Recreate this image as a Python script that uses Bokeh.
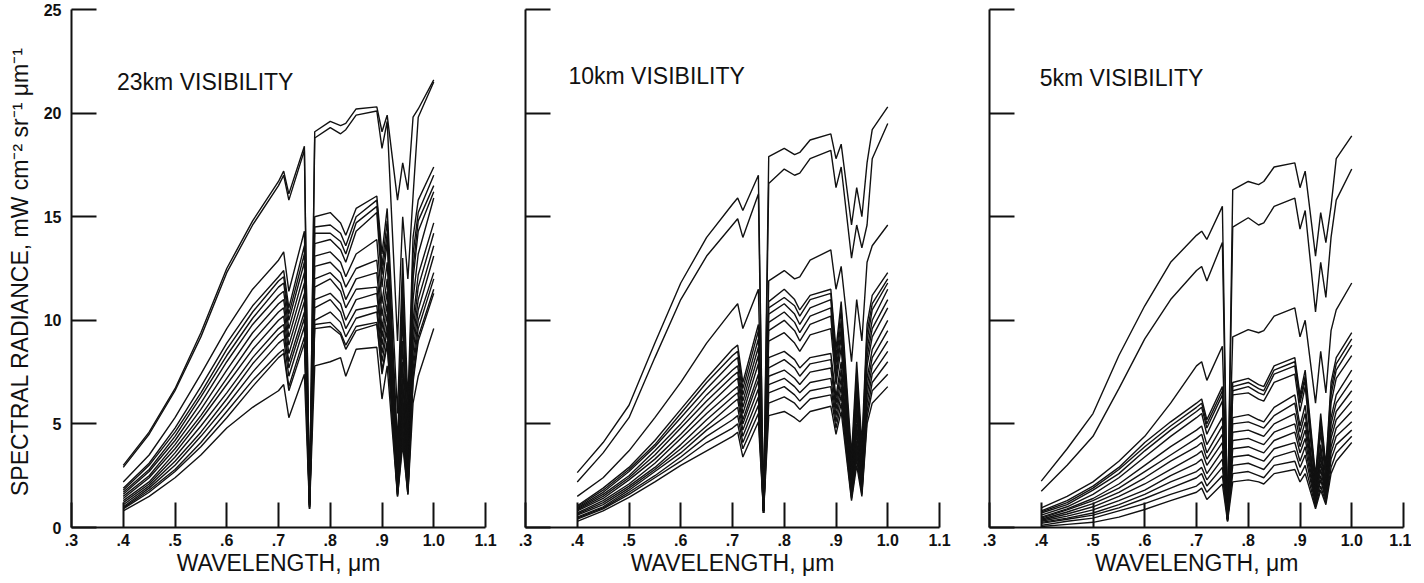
from bokeh.plotting import figure
from bokeh.layouts import row
from bokeh.models import Range1d, FixedTicker, Label, ColumnDataSource
from bokeh.embed import file_html
from bokeh.resources import INLINE

# ---------------- data ----------------
WAVELENGTH = [0.40, 0.45, 0.50, 0.55, 0.60, 0.65, 0.70, 0.71, 0.72, 0.75, 0.76, 0.77, 0.80,
              0.82, 0.83, 0.85, 0.89, 0.90, 0.91, 0.93, 0.94, 0.95, 0.96, 0.97, 1.00]

RAD_23KM = [
    [3.0, 4.6, 6.7, 9.4, 12.5, 14.8, 16.7, 17.2, 16.1, 18.4, 1.2, 19.1, 19.6, 19.4, 19.5, 20.2, 20.3, 19.1, 19.9, 15.8, 17.6, 16.3, 19.8, 20.2, 21.6],
    [2.9, 4.5, 6.6, 9.2, 12.3, 14.6, 16.5, 17.0, 15.8, 18.2, 1.1, 18.8, 19.3, 19.0, 19.2, 19.9, 20.1, 18.3, 19.6, 9.0, 15.0, 12.0, 16.0, 19.8, 21.5],
    [2.2, 3.5, 5.3, 7.4, 9.6, 11.5, 12.9, 13.3, 11.4, 14.3, 1.5, 15.0, 15.2, 14.7, 14.1, 15.4, 16.0, 13.2, 15.4, 5.5, 13.0, 6.0, 14.0, 15.8, 17.4],
    [1.9, 3.1, 4.8, 6.8, 8.9, 10.7, 12.1, 12.4, 10.6, 13.6, 1.4, 14.5, 14.6, 14.2, 13.6, 15.0, 15.8, 12.6, 14.8, 4.0, 12.0, 5.0, 13.2, 15.2, 17.0],
    [1.8, 3.0, 4.6, 6.5, 8.6, 10.4, 11.9, 12.1, 10.3, 13.2, 1.3, 14.2, 14.2, 13.8, 13.2, 14.7, 15.5, 12.2, 14.2, 3.5, 11.0, 4.0, 12.5, 14.8, 16.5],
    [1.7, 2.8, 4.4, 6.3, 8.3, 10.1, 11.6, 11.8, 10.0, 12.8, 1.3, 13.7, 13.9, 13.4, 12.8, 14.3, 15.2, 11.6, 13.8, 3.0, 10.2, 3.5, 12.0, 14.3, 16.2],
    [1.6, 2.7, 4.2, 6.0, 8.0, 9.8, 11.2, 11.4, 9.6, 12.3, 1.2, 13.1, 13.3, 12.8, 12.1, 13.2, 13.9, 10.8, 12.8, 2.6, 9.0, 3.0, 11.0, 13.2, 15.9],
    [1.5, 2.5, 4.0, 5.7, 7.6, 9.4, 10.8, 11.0, 9.2, 11.8, 1.2, 12.6, 12.8, 12.3, 11.6, 12.5, 12.9, 10.2, 12.0, 2.3, 8.0, 2.6, 10.0, 12.2, 14.7],
    [1.4, 2.4, 3.8, 5.4, 7.2, 9.0, 10.4, 10.6, 8.8, 11.3, 1.1, 12.0, 12.3, 11.8, 11.0, 12.0, 12.3, 9.6, 11.4, 2.0, 7.2, 2.3, 9.5, 11.6, 14.2],
    [1.3, 2.2, 3.6, 5.2, 6.9, 8.6, 10.0, 10.2, 8.4, 10.9, 1.1, 11.6, 12.0, 11.4, 10.6, 11.5, 11.6, 9.2, 10.8, 1.9, 6.5, 2.1, 9.0, 11.0, 13.6],
    [1.2, 2.1, 3.4, 4.9, 6.5, 8.2, 9.6, 9.8, 8.0, 10.4, 1.0, 11.0, 11.3, 10.8, 10.0, 11.0, 11.3, 8.8, 10.3, 1.8, 6.0, 2.0, 8.5, 10.5, 13.1],
    [1.1, 2.0, 3.2, 4.6, 6.2, 7.9, 9.3, 9.5, 7.7, 10.1, 1.0, 10.6, 11.0, 10.4, 9.6, 10.5, 10.7, 8.4, 9.8, 1.7, 5.5, 1.9, 8.0, 10.0, 12.3],
    [1.0, 1.9, 3.0, 4.4, 5.9, 7.5, 8.9, 9.1, 7.3, 9.7, 1.0, 10.0, 10.4, 9.9, 9.2, 10.1, 10.4, 8.0, 9.5, 1.6, 5.0, 1.8, 7.6, 9.6, 12.0],
    [0.95, 1.8, 2.8, 4.1, 5.6, 7.1, 8.4, 8.6, 6.8, 9.2, 0.9, 9.8, 9.9, 9.4, 8.8, 9.7, 9.9, 7.6, 9.0, 1.6, 4.6, 1.7, 7.2, 9.2, 11.5],
    [0.9, 1.7, 2.7, 3.9, 5.3, 6.8, 8.2, 8.4, 6.6, 8.9, 0.9, 9.6, 9.7, 9.3, 8.6, 9.5, 9.8, 7.4, 8.8, 1.5, 4.3, 1.6, 7.0, 9.0, 11.3],
    [0.8, 1.5, 2.4, 3.5, 4.8, 5.8, 6.6, 6.9, 5.3, 7.4, 0.9, 7.8, 8.0, 8.2, 7.3, 8.6, 8.7, 6.2, 7.8, 1.5, 4.0, 1.6, 6.0, 7.3, 9.6],
]

RAD_10KM = [
    [2.65, 4.1, 5.9, 8.9, 11.8, 14.0, 15.6, 15.9, 15.3, 17.0, 0.8, 17.9, 18.3, 18.0, 18.1, 18.7, 19.0, 17.8, 18.5, 14.6, 16.4, 15.0, 17.6, 19.2, 20.3],
    [2.2, 3.6, 5.3, 8.2, 11.0, 13.1, 14.6, 14.9, 14.0, 16.1, 0.8, 16.6, 17.3, 17.0, 17.1, 17.8, 18.2, 16.4, 17.4, 13.0, 14.6, 13.5, 14.6, 17.8, 19.5],
    [1.5, 2.4, 3.7, 5.3, 7.0, 8.9, 10.5, 10.8, 9.6, 11.5, 0.9, 11.9, 12.4, 12.0, 12.1, 12.9, 13.4, 11.5, 12.6, 8.0, 11.0, 9.0, 12.8, 13.6, 14.6],
    [1.05, 1.9, 2.9, 4.2, 5.7, 7.2, 8.6, 8.8, 7.0, 9.8, 0.9, 10.9, 11.5, 11.0, 10.5, 11.2, 11.5, 8.6, 10.9, 3.5, 8.0, 4.0, 9.8, 11.2, 12.3],
    [1.0, 1.8, 2.8, 4.0, 5.5, 7.0, 8.3, 8.5, 6.7, 9.5, 0.9, 10.6, 11.1, 10.7, 10.2, 11.0, 11.3, 8.2, 10.5, 3.0, 7.5, 3.5, 9.4, 10.8, 12.0],
    [0.95, 1.7, 2.7, 3.9, 5.3, 6.7, 8.0, 8.2, 6.4, 9.1, 0.9, 10.3, 10.8, 10.3, 9.8, 10.6, 11.0, 7.9, 10.0, 2.7, 7.0, 3.2, 9.0, 10.5, 11.8],
    [0.9, 1.6, 2.5, 3.7, 5.0, 6.4, 7.6, 7.8, 6.1, 8.7, 0.8, 9.9, 10.4, 9.9, 9.4, 10.2, 10.6, 7.5, 9.6, 2.4, 6.5, 2.9, 8.6, 10.0, 11.5],
    [0.85, 1.5, 2.4, 3.5, 4.8, 6.1, 7.3, 7.5, 5.8, 8.3, 0.8, 9.5, 10.0, 9.5, 9.0, 9.8, 10.2, 7.2, 9.2, 2.2, 6.0, 2.6, 8.2, 9.6, 11.0],
    [0.8, 1.4, 2.3, 3.3, 4.5, 5.8, 7.0, 7.2, 5.5, 7.9, 0.8, 9.0, 9.4, 8.9, 8.5, 9.3, 9.6, 6.9, 8.7, 2.0, 5.5, 2.4, 7.8, 9.2, 10.6],
    [0.7, 1.3, 2.1, 3.1, 4.3, 5.5, 6.6, 6.8, 5.2, 7.4, 0.8, 8.2, 8.5, 8.1, 7.7, 8.2, 8.4, 6.3, 8.0, 1.9, 5.0, 2.2, 7.2, 8.6, 10.0],
    [0.65, 1.2, 2.0, 2.9, 4.0, 5.2, 6.3, 6.5, 5.0, 7.1, 0.8, 7.7, 8.1, 7.7, 7.3, 7.9, 8.1, 6.0, 7.6, 1.8, 4.6, 2.0, 6.8, 8.2, 9.5],
    [0.6, 1.1, 1.9, 2.8, 3.8, 4.9, 6.0, 6.2, 4.7, 6.7, 0.7, 7.3, 7.6, 7.2, 6.9, 7.5, 7.7, 5.7, 7.2, 1.7, 4.2, 1.9, 6.4, 7.8, 9.0],
    [0.5, 1.0, 1.8, 2.7, 3.6, 4.7, 5.6, 5.8, 4.4, 6.3, 0.7, 6.9, 7.2, 6.8, 6.5, 7.0, 7.2, 5.4, 6.8, 1.6, 3.9, 1.8, 6.0, 7.4, 8.5],
    [0.45, 0.95, 1.7, 2.5, 3.4, 4.4, 5.2, 5.4, 4.1, 5.9, 0.7, 6.5, 6.8, 6.4, 6.1, 6.6, 6.8, 5.1, 6.4, 1.5, 3.6, 1.7, 5.6, 7.0, 8.0],
    [0.4, 0.9, 1.6, 2.4, 3.2, 4.1, 4.8, 5.0, 3.8, 5.5, 0.7, 6.0, 6.3, 6.0, 5.7, 6.2, 6.4, 4.8, 6.0, 1.4, 3.3, 1.6, 5.3, 6.6, 7.4],
    [0.3, 0.8, 1.45, 2.2, 3.0, 3.7, 4.4, 4.6, 3.4, 5.1, 0.7, 5.4, 5.6, 5.3, 5.1, 5.6, 5.85, 4.5, 5.6, 1.3, 3.0, 1.5, 5.0, 6.0, 6.8],
]

RAD_5KM = [
    [2.24, 3.8, 5.5, 8.3, 10.7, 12.8, 14.1, 14.3, 13.9, 15.5, 0.3, 16.3, 16.7, 16.55, 16.7, 17.4, 17.6, 16.4, 17.2, 13.1, 15.2, 13.75, 15.5, 17.8, 18.9],
    [1.75, 3.0, 4.4, 6.7, 9.1, 11.0, 12.4, 12.6, 11.9, 13.75, 0.3, 14.5, 14.95, 14.6, 14.7, 15.5, 15.9, 14.4, 15.3, 10.4, 12.8, 11.1, 14.0, 15.8, 17.3],
    [0.95, 1.5, 2.2, 3.2, 4.4, 6.0, 7.8, 8.0, 7.1, 8.75, 0.4, 9.2, 9.55, 9.4, 9.5, 10.2, 10.6, 9.2, 10.0, 6.0, 8.5, 6.5, 9.5, 10.5, 11.8],
    [0.8, 1.3, 2.0, 2.9, 4.1, 5.1, 6.0, 6.2, 5.2, 6.8, 0.4, 7.0, 7.2, 6.9, 6.8, 7.8, 8.2, 6.4, 7.6, 2.5, 5.5, 3.0, 7.0, 8.2, 9.4],
    [0.75, 1.2, 1.9, 2.8, 3.9, 4.9, 5.8, 6.0, 5.0, 6.6, 0.4, 6.8, 7.0, 6.7, 6.6, 7.6, 8.0, 6.2, 7.3, 2.3, 5.2, 2.8, 6.7, 7.9, 9.1],
    [0.7, 1.1, 1.8, 2.6, 3.7, 4.7, 5.6, 5.8, 4.8, 6.4, 0.4, 6.6, 6.8, 6.5, 6.4, 7.4, 7.8, 6.0, 7.1, 2.1, 5.0, 2.6, 6.4, 7.6, 8.8],
    [0.6, 1.0, 1.6, 2.4, 3.4, 4.4, 5.3, 5.5, 4.5, 6.1, 0.4, 6.4, 6.5, 6.2, 6.1, 7.0, 7.4, 5.6, 6.8, 1.9, 4.6, 2.3, 6.0, 7.2, 8.3],
    [0.5, 0.9, 1.4, 2.1, 3.0, 3.9, 4.7, 4.9, 4.0, 5.3, 0.4, 5.3, 5.45, 5.2, 5.1, 5.8, 6.4, 4.9, 5.9, 1.7, 4.0, 2.0, 5.3, 6.4, 7.6],
    [0.45, 0.85, 1.3, 1.9, 2.7, 3.5, 4.3, 4.5, 3.6, 4.9, 0.4, 5.0, 5.1, 4.9, 4.8, 5.4, 6.0, 4.6, 5.5, 1.6, 3.7, 1.9, 5.0, 6.0, 7.1],
    [0.4, 0.75, 1.15, 1.7, 2.4, 3.2, 3.9, 4.1, 3.3, 4.5, 0.4, 4.6, 4.7, 4.5, 4.4, 5.0, 5.5, 4.2, 5.1, 1.5, 3.4, 1.7, 4.6, 5.6, 6.6],
    [0.35, 0.65, 1.0, 1.5, 2.1, 2.8, 3.5, 3.7, 3.0, 4.1, 0.4, 4.2, 4.3, 4.1, 4.0, 4.6, 5.0, 3.9, 4.7, 1.4, 3.1, 1.6, 4.3, 5.2, 6.1],
    [0.3, 0.55, 0.85, 1.3, 1.8, 2.5, 3.1, 3.3, 2.6, 3.7, 0.4, 3.8, 3.9, 3.7, 3.6, 4.2, 4.6, 3.6, 4.3, 1.3, 2.8, 1.5, 3.9, 4.8, 5.6],
    [0.25, 0.45, 0.7, 1.1, 1.6, 2.2, 2.7, 2.9, 2.3, 3.3, 0.4, 3.4, 3.5, 3.3, 3.2, 3.8, 4.1, 3.2, 3.9, 1.2, 2.5, 1.4, 3.6, 4.4, 5.1],
    [0.2, 0.4, 0.6, 0.95, 1.4, 1.9, 2.4, 2.6, 2.0, 2.9, 0.4, 3.0, 3.1, 2.9, 2.8, 3.4, 3.7, 2.9, 3.5, 1.1, 2.3, 1.3, 3.3, 4.0, 4.7],
    [0.1, 0.3, 0.45, 0.8, 1.15, 1.6, 2.0, 2.2, 1.7, 2.5, 0.4, 2.6, 2.7, 2.5, 2.4, 3.0, 3.2, 2.5, 3.0, 1.0, 2.0, 1.2, 2.9, 3.6, 4.4],
    [0.05, 0.15, 0.25, 0.5, 0.87, 1.3, 1.7, 1.9, 1.35, 2.1, 0.3, 2.2, 2.3, 2.2, 2.1, 2.6, 2.8, 2.2, 2.6, 0.9, 1.8, 1.1, 2.6, 3.2, 4.1],
]

PANEL_TITLES = ["23km VISIBILITY", "10km VISIBILITY", "5km VISIBILITY"]
XTICKS = [0.3, 0.4, 0.5, 0.6, 0.7, 0.8, 0.9, 1.0, 1.1]
XTICK_LABELS = [".3", ".4", ".5", ".6", ".7", ".8", ".9", "1.0", "1.1"]
YTICKS = [0, 5, 10, 15, 20, 25]
X_TITLE = "WAVELENGTH, \u03bcm"
Y_TITLE = "SPECTRAL RADIANCE,  mW cm\u207b\u00b2 sr\u207b\u00b9 \u03bcm\u207b\u00b9"

FONT = "Liberation Sans"
INK = "#111111"


def make_panel(curves, title, tx, ty, first, left, right):
    p = figure(frame_width=414, frame_height=518,
               x_range=Range1d(0.3, 1.1), y_range=Range1d(0, 25),
               output_backend="svg", toolbar_location=None,
               min_border_left=left, min_border_right=right,
               min_border_top=9, min_border_bottom=44)
    p.outline_line_color = None
    p.grid.visible = False
    p.background_fill_color = "white"
    p.border_fill_color = "white"

    src = ColumnDataSource(dict(xs=[WAVELENGTH] * len(curves), ys=curves))
    p.multi_line("xs", "ys", source=src, line_color=INK, line_width=1.4)

    xa = p.xaxis[0]
    xa.ticker = FixedTicker(ticks=XTICKS)
    xa.major_label_overrides = dict(zip(XTICKS, XTICK_LABELS))
    xa.major_tick_in = 25
    xa.major_tick_out = 0
    xa.minor_tick_line_color = None
    xa.axis_line_width = 2
    xa.major_tick_line_width = 2
    xa.axis_line_color = INK
    xa.major_tick_line_color = INK
    xa.major_label_text_font = FONT
    xa.major_label_text_font_size = "16px"
    xa.major_label_text_font_style = "bold"
    xa.major_label_text_color = INK
    xa.major_label_standoff = 6
    xa.axis_label = X_TITLE
    xa.axis_label_text_font = FONT
    xa.axis_label_text_font_size = "23px"
    xa.axis_label_text_font_style = "normal"
    xa.axis_label_text_color = INK
    xa.axis_label_standoff = 1

    ya = p.yaxis[0]
    ya.ticker = FixedTicker(ticks=YTICKS)
    ya.major_tick_in = 25
    ya.major_tick_out = 0
    ya.minor_tick_line_color = None
    ya.axis_line_width = 2
    ya.major_tick_line_width = 2
    ya.axis_line_color = INK
    ya.major_tick_line_color = INK
    ya.major_label_text_font = FONT
    ya.major_label_text_font_size = "16px"
    ya.major_label_text_font_style = "bold"
    ya.major_label_text_color = INK
    ya.major_label_standoff = 10
    if first:
        ya.axis_label = Y_TITLE
        ya.axis_label_text_font = FONT
        ya.axis_label_text_font_size = "23px"
        ya.axis_label_text_font_style = "normal"
        ya.axis_label_text_color = INK
        ya.axis_label_standoff = 8
    else:
        ya.major_label_overrides = {t: "" for t in YTICKS}

    p.add_layout(Label(x=tx, y=ty, text=title, text_font=FONT,
                       text_font_size="23px", text_color=INK,
                       text_baseline="middle", text_align="left"))
    return p


p1 = make_panel(RAD_23KM, PANEL_TITLES[0], 0.388, 21.5, True, 71, 20)
p2 = make_panel(RAD_10KM, PANEL_TITLES[1], 0.383, 21.8, False, 20, 30)
p3 = make_panel(RAD_5KM, PANEL_TITLES[2], 0.397, 21.7, False, 20, 8)

layout = row(p1, p2, p3)
open("out.html", "w").write(file_html(layout, INLINE, "Spectral radiance"))
